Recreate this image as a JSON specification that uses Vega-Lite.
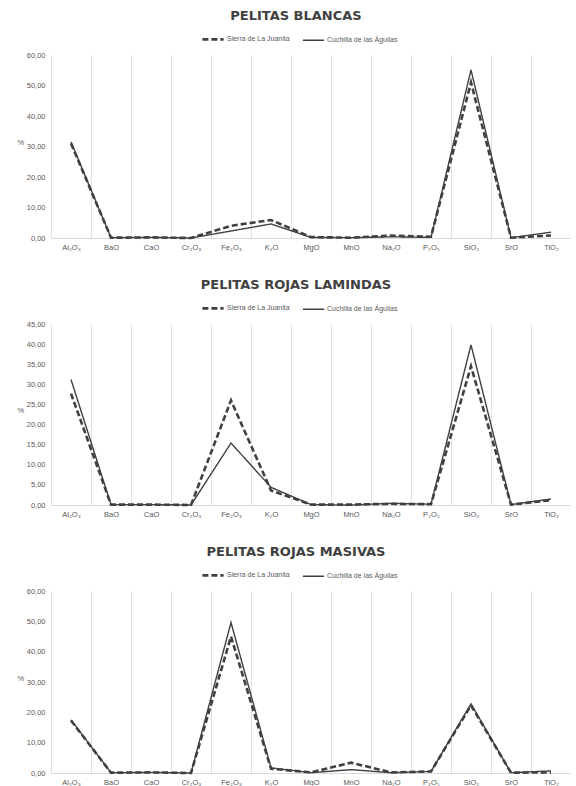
{
  "$schema": "https://vega.github.io/schema/vega-lite/v6.json",
  "padding": {"top": 10, "left": 16, "right": 0, "bottom": 0},
  "background": "white",
  "spacing": 28,
  "config": {
    "font": "Liberation Sans",
    "view": {"stroke": null},
    "title": {"font": "DejaVu Sans", "fontSize": 13, "fontWeight": "bold", "color": "#404040", "anchor": "middle", "dx": -15, "offset": 4},
    "axis": {"labelFont": "Liberation Sans", "labelFontSize": 7.5, "labelColor": "#595959", "ticks": false},
    "legend": {"labelFont": "Liberation Sans", "labelFontSize": 7, "labelColor": "#595959"}
  },
  "datasets": {
    "d": [
      {"p": "PELITAS BLANCAS", "o": "Al₂O₃", "s": "Sierra de La Juanita", "v": 31.0},
      {"p": "PELITAS BLANCAS", "o": "BaO", "s": "Sierra de La Juanita", "v": 0.1},
      {"p": "PELITAS BLANCAS", "o": "CaO", "s": "Sierra de La Juanita", "v": 0.2},
      {"p": "PELITAS BLANCAS", "o": "Cr₂O₃", "s": "Sierra de La Juanita", "v": 0.0},
      {"p": "PELITAS BLANCAS", "o": "Fe₂O₃", "s": "Sierra de La Juanita", "v": 4.0},
      {"p": "PELITAS BLANCAS", "o": "K₂O", "s": "Sierra de La Juanita", "v": 5.9},
      {"p": "PELITAS BLANCAS", "o": "MgO", "s": "Sierra de La Juanita", "v": 0.3},
      {"p": "PELITAS BLANCAS", "o": "MnO", "s": "Sierra de La Juanita", "v": 0.1},
      {"p": "PELITAS BLANCAS", "o": "Na₂O", "s": "Sierra de La Juanita", "v": 0.8},
      {"p": "PELITAS BLANCAS", "o": "P₂O₅", "s": "Sierra de La Juanita", "v": 0.4},
      {"p": "PELITAS BLANCAS", "o": "SiO₂", "s": "Sierra de La Juanita", "v": 51.0},
      {"p": "PELITAS BLANCAS", "o": "SrO", "s": "Sierra de La Juanita", "v": 0.1},
      {"p": "PELITAS BLANCAS", "o": "TiO₂", "s": "Sierra de La Juanita", "v": 0.8},
      {"p": "PELITAS BLANCAS", "o": "Al₂O₃", "s": "Cuchilla de las Águilas", "v": 31.5},
      {"p": "PELITAS BLANCAS", "o": "BaO", "s": "Cuchilla de las Águilas", "v": 0.1},
      {"p": "PELITAS BLANCAS", "o": "CaO", "s": "Cuchilla de las Águilas", "v": 0.2},
      {"p": "PELITAS BLANCAS", "o": "Cr₂O₃", "s": "Cuchilla de las Águilas", "v": 0.0},
      {"p": "PELITAS BLANCAS", "o": "Fe₂O₃", "s": "Cuchilla de las Águilas", "v": 2.3},
      {"p": "PELITAS BLANCAS", "o": "K₂O", "s": "Cuchilla de las Águilas", "v": 4.6},
      {"p": "PELITAS BLANCAS", "o": "MgO", "s": "Cuchilla de las Águilas", "v": 0.2},
      {"p": "PELITAS BLANCAS", "o": "MnO", "s": "Cuchilla de las Águilas", "v": 0.1},
      {"p": "PELITAS BLANCAS", "o": "Na₂O", "s": "Cuchilla de las Águilas", "v": 0.4},
      {"p": "PELITAS BLANCAS", "o": "P₂O₅", "s": "Cuchilla de las Águilas", "v": 0.2},
      {"p": "PELITAS BLANCAS", "o": "SiO₂", "s": "Cuchilla de las Águilas", "v": 55.1},
      {"p": "PELITAS BLANCAS", "o": "SrO", "s": "Cuchilla de las Águilas", "v": 0.1},
      {"p": "PELITAS BLANCAS", "o": "TiO₂", "s": "Cuchilla de las Águilas", "v": 1.9},

      {"p": "PELITAS ROJAS LAMINDAS", "o": "Al₂O₃", "s": "Sierra de La Juanita", "v": 27.7},
      {"p": "PELITAS ROJAS LAMINDAS", "o": "BaO", "s": "Sierra de La Juanita", "v": 0.1},
      {"p": "PELITAS ROJAS LAMINDAS", "o": "CaO", "s": "Sierra de La Juanita", "v": 0.1},
      {"p": "PELITAS ROJAS LAMINDAS", "o": "Cr₂O₃", "s": "Sierra de La Juanita", "v": 0.0},
      {"p": "PELITAS ROJAS LAMINDAS", "o": "Fe₂O₃", "s": "Sierra de La Juanita", "v": 26.0},
      {"p": "PELITAS ROJAS LAMINDAS", "o": "K₂O", "s": "Sierra de La Juanita", "v": 3.6},
      {"p": "PELITAS ROJAS LAMINDAS", "o": "MgO", "s": "Sierra de La Juanita", "v": 0.1},
      {"p": "PELITAS ROJAS LAMINDAS", "o": "MnO", "s": "Sierra de La Juanita", "v": 0.1},
      {"p": "PELITAS ROJAS LAMINDAS", "o": "Na₂O", "s": "Sierra de La Juanita", "v": 0.3},
      {"p": "PELITAS ROJAS LAMINDAS", "o": "P₂O₅", "s": "Sierra de La Juanita", "v": 0.2},
      {"p": "PELITAS ROJAS LAMINDAS", "o": "SiO₂", "s": "Sierra de La Juanita", "v": 34.5},
      {"p": "PELITAS ROJAS LAMINDAS", "o": "SrO", "s": "Sierra de La Juanita", "v": 0.1},
      {"p": "PELITAS ROJAS LAMINDAS", "o": "TiO₂", "s": "Sierra de La Juanita", "v": 1.2},
      {"p": "PELITAS ROJAS LAMINDAS", "o": "Al₂O₃", "s": "Cuchilla de las Águilas", "v": 31.2},
      {"p": "PELITAS ROJAS LAMINDAS", "o": "BaO", "s": "Cuchilla de las Águilas", "v": 0.1},
      {"p": "PELITAS ROJAS LAMINDAS", "o": "CaO", "s": "Cuchilla de las Águilas", "v": 0.1},
      {"p": "PELITAS ROJAS LAMINDAS", "o": "Cr₂O₃", "s": "Cuchilla de las Águilas", "v": 0.0},
      {"p": "PELITAS ROJAS LAMINDAS", "o": "Fe₂O₃", "s": "Cuchilla de las Águilas", "v": 15.4},
      {"p": "PELITAS ROJAS LAMINDAS", "o": "K₂O", "s": "Cuchilla de las Águilas", "v": 4.4},
      {"p": "PELITAS ROJAS LAMINDAS", "o": "MgO", "s": "Cuchilla de las Águilas", "v": 0.1},
      {"p": "PELITAS ROJAS LAMINDAS", "o": "MnO", "s": "Cuchilla de las Águilas", "v": 0.0},
      {"p": "PELITAS ROJAS LAMINDAS", "o": "Na₂O", "s": "Cuchilla de las Águilas", "v": 0.4},
      {"p": "PELITAS ROJAS LAMINDAS", "o": "P₂O₅", "s": "Cuchilla de las Águilas", "v": 0.2},
      {"p": "PELITAS ROJAS LAMINDAS", "o": "SiO₂", "s": "Cuchilla de las Águilas", "v": 39.8},
      {"p": "PELITAS ROJAS LAMINDAS", "o": "SrO", "s": "Cuchilla de las Águilas", "v": 0.1},
      {"p": "PELITAS ROJAS LAMINDAS", "o": "TiO₂", "s": "Cuchilla de las Águilas", "v": 1.5},

      {"p": "PELITAS ROJAS MASIVAS", "o": "Al₂O₃", "s": "Sierra de La Juanita", "v": 17.3},
      {"p": "PELITAS ROJAS MASIVAS", "o": "BaO", "s": "Sierra de La Juanita", "v": 0.1},
      {"p": "PELITAS ROJAS MASIVAS", "o": "CaO", "s": "Sierra de La Juanita", "v": 0.2},
      {"p": "PELITAS ROJAS MASIVAS", "o": "Cr₂O₃", "s": "Sierra de La Juanita", "v": 0.0},
      {"p": "PELITAS ROJAS MASIVAS", "o": "Fe₂O₃", "s": "Sierra de La Juanita", "v": 45.0},
      {"p": "PELITAS ROJAS MASIVAS", "o": "K₂O", "s": "Sierra de La Juanita", "v": 1.4},
      {"p": "PELITAS ROJAS MASIVAS", "o": "MgO", "s": "Sierra de La Juanita", "v": 0.2},
      {"p": "PELITAS ROJAS MASIVAS", "o": "MnO", "s": "Sierra de La Juanita", "v": 3.4},
      {"p": "PELITAS ROJAS MASIVAS", "o": "Na₂O", "s": "Sierra de La Juanita", "v": 0.2},
      {"p": "PELITAS ROJAS MASIVAS", "o": "P₂O₅", "s": "Sierra de La Juanita", "v": 0.5},
      {"p": "PELITAS ROJAS MASIVAS", "o": "SiO₂", "s": "Sierra de La Juanita", "v": 22.3},
      {"p": "PELITAS ROJAS MASIVAS", "o": "SrO", "s": "Sierra de La Juanita", "v": 0.1},
      {"p": "PELITAS ROJAS MASIVAS", "o": "TiO₂", "s": "Sierra de La Juanita", "v": 0.2},
      {"p": "PELITAS ROJAS MASIVAS", "o": "Al₂O₃", "s": "Cuchilla de las Águilas", "v": 17.5},
      {"p": "PELITAS ROJAS MASIVAS", "o": "BaO", "s": "Cuchilla de las Águilas", "v": 0.1},
      {"p": "PELITAS ROJAS MASIVAS", "o": "CaO", "s": "Cuchilla de las Águilas", "v": 0.2},
      {"p": "PELITAS ROJAS MASIVAS", "o": "Cr₂O₃", "s": "Cuchilla de las Águilas", "v": 0.0},
      {"p": "PELITAS ROJAS MASIVAS", "o": "Fe₂O₃", "s": "Cuchilla de las Águilas", "v": 49.6},
      {"p": "PELITAS ROJAS MASIVAS", "o": "K₂O", "s": "Cuchilla de las Águilas", "v": 1.7},
      {"p": "PELITAS ROJAS MASIVAS", "o": "MgO", "s": "Cuchilla de las Águilas", "v": 0.1},
      {"p": "PELITAS ROJAS MASIVAS", "o": "MnO", "s": "Cuchilla de las Águilas", "v": 1.1},
      {"p": "PELITAS ROJAS MASIVAS", "o": "Na₂O", "s": "Cuchilla de las Águilas", "v": 0.1},
      {"p": "PELITAS ROJAS MASIVAS", "o": "P₂O₅", "s": "Cuchilla de las Águilas", "v": 0.5},
      {"p": "PELITAS ROJAS MASIVAS", "o": "SiO₂", "s": "Cuchilla de las Águilas", "v": 22.8},
      {"p": "PELITAS ROJAS MASIVAS", "o": "SrO", "s": "Cuchilla de las Águilas", "v": 0.1},
      {"p": "PELITAS ROJAS MASIVAS", "o": "TiO₂", "s": "Cuchilla de las Águilas", "v": 0.7}
    ]
  },
  "resolve": {
    "scale": {"y": "independent", "strokeDash": "independent", "strokeWidth": "independent"},
    "legend": {"strokeDash": "independent", "strokeWidth": "independent"}
  },
  "vconcat": [
    {
      "title": "PELITAS BLANCAS",
      "width": 520, "height": 183,
      "data": {"name": "d"},
      "transform": [{"filter": "datum.p === 'PELITAS BLANCAS'"}],
      "mark": {"type": "line", "color": "#404040", "strokeCap": "butt", "strokeJoin": "miter"},
      "encoding": {
        "x": {"field": "o", "type": "nominal", "sort": ["Al₂O₃","BaO","CaO","Cr₂O₃","Fe₂O₃","K₂O","MgO","MnO","Na₂O","P₂O₅","SiO₂","SrO","TiO₂"], "bandPosition": 0.5,
              "scale": {"type": "band", "paddingInner": 0, "paddingOuter": 0},
              "axis": {"title": null, "labelAngle": 0, "tickBand": "extent", "grid": true, "gridColor": "#d9d9d9", "gridWidth": 0.8, "domainColor": "#d9d9d9", "labelPadding": 5}},
        "y": {"field": "v", "type": "quantitative", "scale": {"domain": [0, 60], "nice": false},
              "axis": {"title": "%", "titleAngle": 0, "titleFontSize": 7.5, "titleFontWeight": "normal", "titleColor": "#595959", "titlePadding": 6, "grid": false, "domain": false, "values": [0,10,20,30,40,50,60], "labelExpr": "replace(format(datum.value, '.2f'), '.', ',')", "labelPadding": 6}},
        "strokeDash": {"field": "s", "type": "nominal", "scale": {"domain": ["Sierra de La Juanita", "Cuchilla de las Águilas"], "range": [[6, 3], [1, 0]]},
              "legend": {"title": null, "orient": "none", "direction": "horizontal", "legendX": 150, "legendY": -28, "symbolType": "stroke", "symbolSize": 450, "symbolStrokeColor": "#404040", "columnPadding": 10, "labelOffset": 2}},
        "strokeWidth": {"field": "s", "type": "nominal", "scale": {"domain": ["Sierra de La Juanita", "Cuchilla de las Águilas"], "range": [2.6, 1.4]}, "legend": null}
      }
    },
    {
      "title": "PELITAS ROJAS LAMINDAS",
      "width": 520, "height": 181,
      "data": {"name": "d"},
      "transform": [{"filter": "datum.p === 'PELITAS ROJAS LAMINDAS'"}],
      "mark": {"type": "line", "color": "#404040", "strokeCap": "butt", "strokeJoin": "miter"},
      "encoding": {
        "x": {"field": "o", "type": "nominal", "sort": ["Al₂O₃","BaO","CaO","Cr₂O₃","Fe₂O₃","K₂O","MgO","MnO","Na₂O","P₂O₅","SiO₂","SrO","TiO₂"], "bandPosition": 0.5,
              "scale": {"type": "band", "paddingInner": 0, "paddingOuter": 0},
              "axis": {"title": null, "labelAngle": 0, "tickBand": "extent", "grid": true, "gridColor": "#d9d9d9", "gridWidth": 0.8, "domainColor": "#d9d9d9", "labelPadding": 5}},
        "y": {"field": "v", "type": "quantitative", "scale": {"domain": [0, 45], "nice": false},
              "axis": {"title": "%", "titleAngle": 0, "titleFontSize": 7.5, "titleFontWeight": "normal", "titleColor": "#595959", "titlePadding": 6, "grid": false, "domain": false, "values": [0,5,10,15,20,25,30,35,40,45], "labelExpr": "replace(format(datum.value, '.2f'), '.', ',')", "labelPadding": 6}},
        "strokeDash": {"field": "s", "type": "nominal", "scale": {"domain": ["Sierra de La Juanita", "Cuchilla de las Águilas"], "range": [[6, 3], [1, 0]]},
              "legend": {"title": null, "orient": "none", "direction": "horizontal", "legendX": 150, "legendY": -28, "symbolType": "stroke", "symbolSize": 450, "symbolStrokeColor": "#404040", "columnPadding": 10, "labelOffset": 2}},
        "strokeWidth": {"field": "s", "type": "nominal", "scale": {"domain": ["Sierra de La Juanita", "Cuchilla de las Águilas"], "range": [2.6, 1.4]}, "legend": null}
      }
    },
    {
      "title": "PELITAS ROJAS MASIVAS",
      "width": 520, "height": 182,
      "data": {"name": "d"},
      "transform": [{"filter": "datum.p === 'PELITAS ROJAS MASIVAS'"}],
      "mark": {"type": "line", "color": "#404040", "strokeCap": "butt", "strokeJoin": "miter"},
      "encoding": {
        "x": {"field": "o", "type": "nominal", "sort": ["Al₂O₃","BaO","CaO","Cr₂O₃","Fe₂O₃","K₂O","MgO","MnO","Na₂O","P₂O₅","SiO₂","SrO","TiO₂"], "bandPosition": 0.5,
              "scale": {"type": "band", "paddingInner": 0, "paddingOuter": 0},
              "axis": {"title": null, "labelAngle": 0, "tickBand": "extent", "grid": true, "gridColor": "#d9d9d9", "gridWidth": 0.8, "domainColor": "#d9d9d9", "labelPadding": 5}},
        "y": {"field": "v", "type": "quantitative", "scale": {"domain": [0, 60], "nice": false},
              "axis": {"title": "%", "titleAngle": 0, "titleFontSize": 7.5, "titleFontWeight": "normal", "titleColor": "#595959", "titlePadding": 6, "grid": false, "domain": false, "values": [0,10,20,30,40,50,60], "labelExpr": "replace(format(datum.value, '.2f'), '.', ',')", "labelPadding": 6}},
        "strokeDash": {"field": "s", "type": "nominal", "scale": {"domain": ["Sierra de La Juanita", "Cuchilla de las Águilas"], "range": [[6, 3], [1, 0]]},
              "legend": {"title": null, "orient": "none", "direction": "horizontal", "legendX": 150, "legendY": -28, "symbolType": "stroke", "symbolSize": 450, "symbolStrokeColor": "#404040", "columnPadding": 10, "labelOffset": 2}},
        "strokeWidth": {"field": "s", "type": "nominal", "scale": {"domain": ["Sierra de La Juanita", "Cuchilla de las Águilas"], "range": [2.6, 1.4]}, "legend": null}
      }
    }
  ]
}
